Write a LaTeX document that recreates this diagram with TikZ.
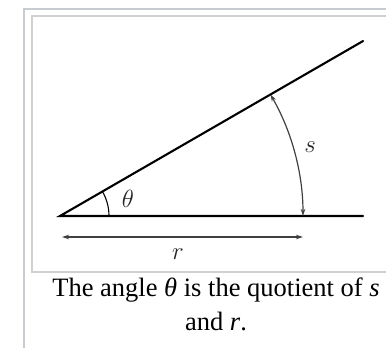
\documentclass[tikz,border=0pt]{standalone}
\usepackage{amsmath}
\usepackage{fontspec}
\setmainfont{Liberation Serif}
\usepackage{xcolor}
\usepackage{tikz}
\usetikzlibrary{arrows.meta}

\definecolor{framegray}{HTML}{C8CCD1}
\definecolor{boxgray}{HTML}{D0D0D0}

\begin{document}
\begin{tikzpicture}[
    x=1pt, y=1pt,
    ray/.style={line width=2.1pt, line cap=round},
    dim/.style={{Stealth[length=7pt,width=4.5pt]}-{Stealth[length=7pt,width=4.5pt]}, line width=1.2pt, black!75},
    lbl/.style={font=\fontsize{34}{34}\selectfont, inner sep=0pt, black!85},
    frame/.style={framegray, line width=2pt}
]
\useasboundingbox (-60,-132) rectangle (326,216);

% Thumbnail frames
\coordinate (ftl) at (-36,207);
\coordinate (ftr) at (326,207);
\coordinate (fbl) at (-36,-132);
\draw[frame] (ftr) -- (ftl) -- (fbl);
\coordinate (itl) at (-28,200);
\coordinate (itr) at (326,200);
\coordinate (ibl) at (-28,-56);
\coordinate (ibr) at (326,-56);
\draw[frame, boxgray] (itr) -- (itl) -- (ibl) -- (ibr);

% Rays
\coordinate (O) at (0,0);
\coordinate (A) at (303,0);
\coordinate (B) at (30:350);
\draw[ray] (A) -- (O) -- (B);

% Angle theta
\coordinate (t0) at (0:49);
\draw[line width=1.1pt] (t0) arc[start angle=0, end angle=30, radius=49];
\node[lbl] (theta) at (68,17) {$\theta$};

% Arc s
\coordinate (s0) at (0:243);
\coordinate (s1) at (30:243);
\draw[dim] (s0) arc[start angle=0, end angle=30, radius=243];
\node[lbl] (s) at (250,69) {$s$};

% Radius r
\coordinate (r0) at (2,-21);
\coordinate (r1) at (243,-21);
\draw[dim] (r0) -- (r1);
\node[lbl] (r) at (118,-38) {$r$};

% Caption
\node[font=\fontsize{26.5}{33}\selectfont, align=center, anchor=base, inner sep=0pt] (caption) at (156,-114)
  {The angle \textit{θ} is the quotient of \textit{s}\\ and \textit{r}.};
\end{tikzpicture}
\end{document}
